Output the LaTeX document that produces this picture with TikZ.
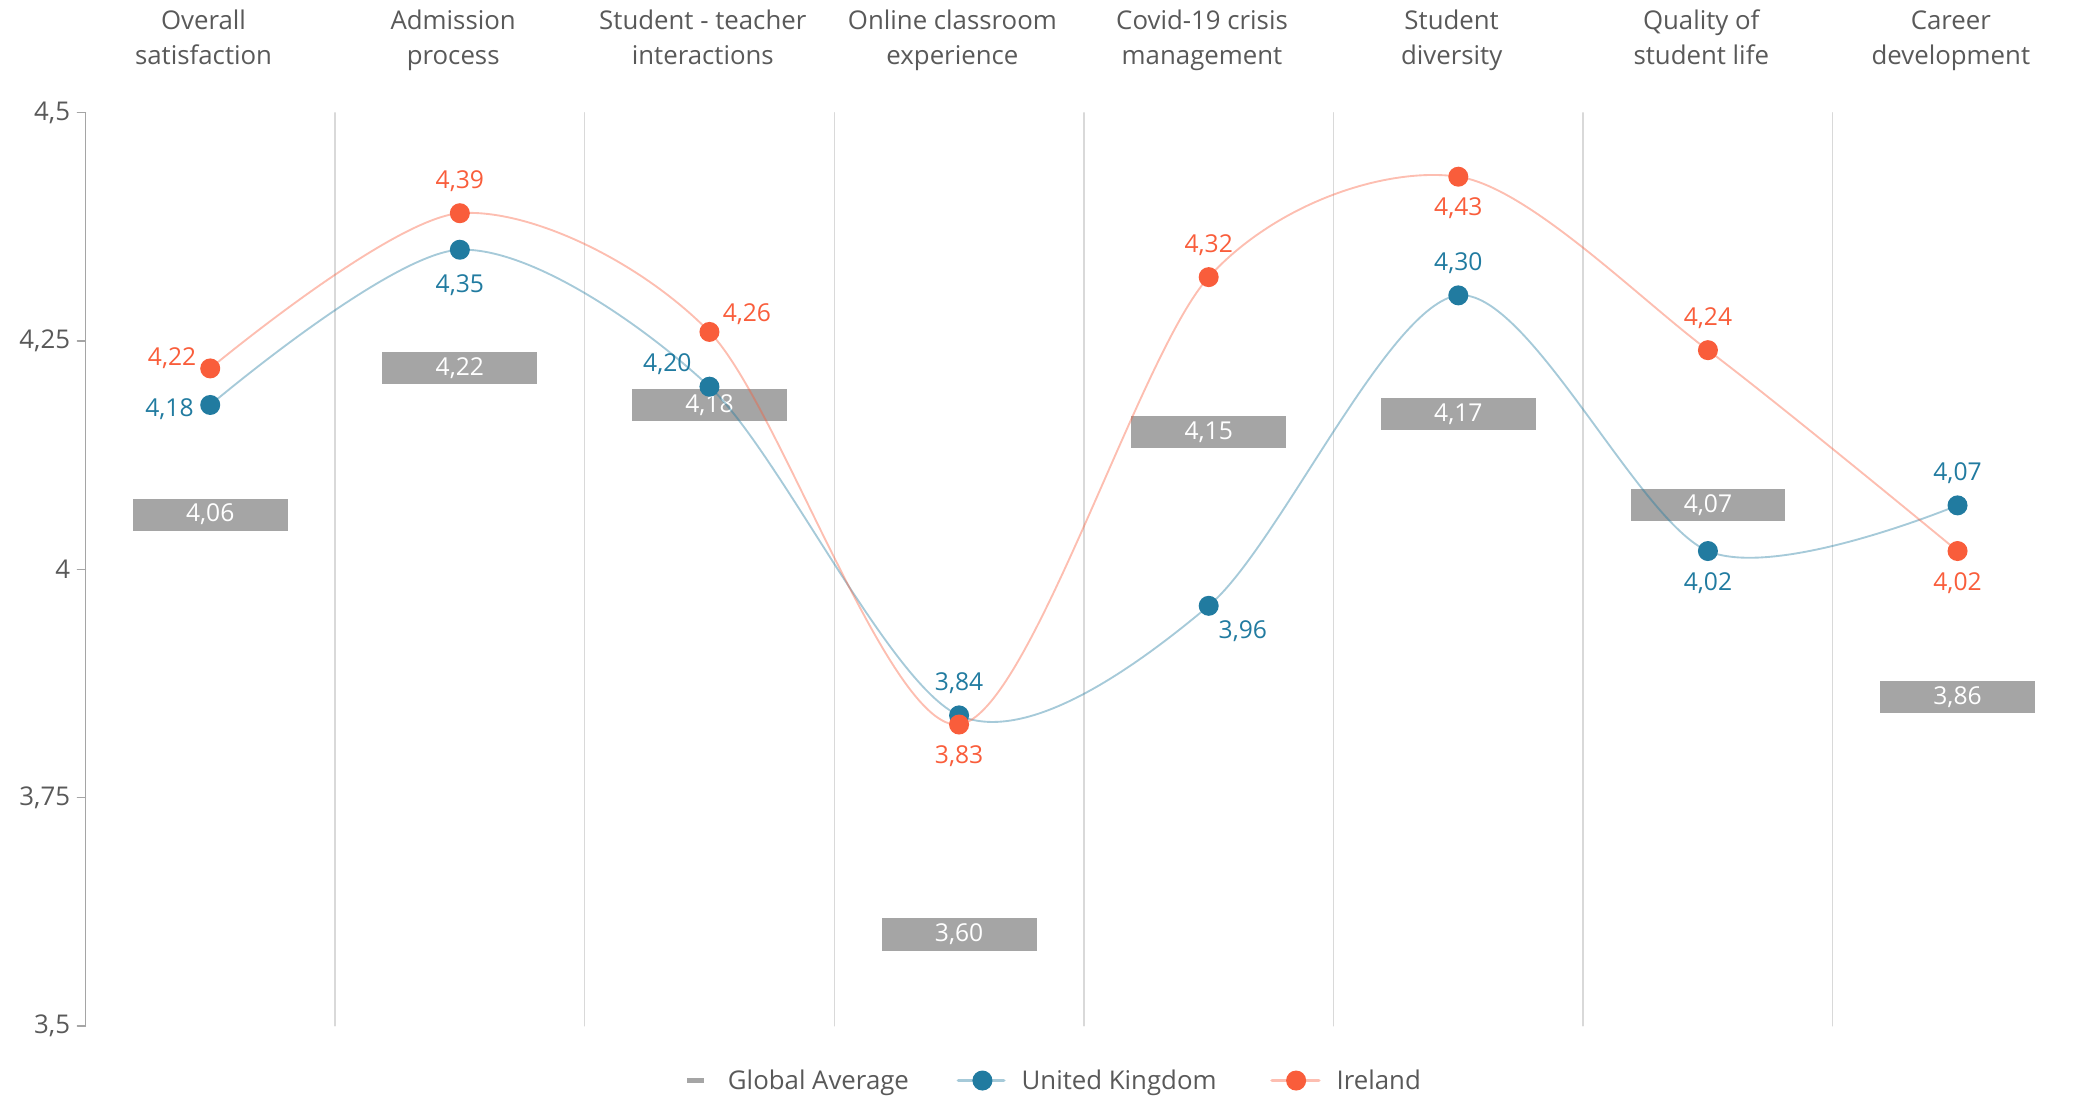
\documentclass[tikz,border=0pt]{standalone}
\usepackage{fontspec}
\setmainfont{Open Sans}
\usepackage{tikz}
\usetikzlibrary{positioning}

\definecolor{ukblue}{HTML}{217BA0}
\definecolor{ieorange}{HTML}{F95D3B}
\definecolor{avggray}{HTML}{A5A5A5}
\definecolor{txtgray}{HTML}{595959}
\definecolor{sepgray}{HTML}{D9D9D9}
\pgfkeys{/pgf/number format/.cd,use comma,fixed,fixed zerofill,precision=2,
  assume math mode=true}
\newcommand{\twoline}[2]{#1\strut\\#2\strut}

\begin{document}
\begin{tikzpicture}[line cap=round,
  hdr/.style={font=\fontsize{11}{14.8}\selectfont,text=txtgray,align=center},
  lbl/.style={font=\fontsize{10.5}{12}\selectfont,inner sep=1pt},
  avgbox/.style={fill=avggray,text=white,minimum width=2.32cm,minimum height=0.48cm,
    inner sep=0pt,font=\fontsize{10.5}{12}\selectfont},
  dot/.style={circle,inner sep=0pt,minimum size=0.3cm},
  trend/.style={line width=0.8pt,opacity=0.4},
  node distance=0.12cm]
  \useasboundingbox (0,0) rectangle (31.36,16.45);

  \begin{scope}[x=3.74cm,y=13.68cm,shift={(1.28cm,-46.8cm)}]
  % category separators
  \foreach \i in {1,...,7}
    \draw[sepgray,line width=0.6pt] (\i,3.5) -- (\i,4.5);

  % axis
  \draw[avggray,line width=0.6pt] (0,3.5) -- (0,4.5);
  \foreach \v/\t [count=\k] in {3.5/{3,5},3.75/{3,75},4/4,4.25/{4,25},4.5/{4,5}}{
    \draw[avggray,line width=0.6pt] (0,\v) -- ++(-0.12cm,0)
      node[left,hdr,inner sep=0.1cm] (tick\k) {\t};
  }

  % headers
  \foreach \h [count=\i] in {{\twoline{Overall}{satisfaction}},
      {\twoline{Admission}{process}},
      {\twoline{Student - teacher}{interactions}},
      {\twoline{Online classroom}{experience}},
      {\twoline{Covid-19 crisis}{management}},
      {\twoline{Student}{diversity}},
      {\twoline{Quality of}{student life}},
      {\twoline{Career}{development}}}
    \node[hdr,xshift=-0.1cm,inner sep=0pt] (hd\i) at (\i-0.5,4.58) {\h};

  % global average boxes, data points
  \foreach \g/\u/\r [count=\k] in {4.06/4.18/4.22,4.22/4.35/4.39,4.18/4.20/4.26,
      3.60/3.84/3.83,4.15/3.96/4.32,4.17/4.30/4.43,4.07/4.02/4.24,3.86/4.07/4.02}{
    \node[avgbox] (ga\k) at (\k-0.5,\g) {\pgfmathprintnumber{\g}};
    \coordinate (uk\k) at (\k-0.5,\u);
    \coordinate (ie\k) at (\k-0.5,\r);
  }

  % smoothed lines
  \draw[ukblue,trend] plot[smooth,tension=0.5] coordinates
    {(uk1) (uk2) (uk3) (uk4) (uk5) (uk6) (uk7) (uk8)};
  \draw[ieorange,trend] plot[smooth,tension=0.5] coordinates
    {(ie1) (ie2) (ie3) (ie4) (ie5) (ie6) (ie7) (ie8)};

  % markers
  \foreach \k in {1,...,8}
    \node[dot,fill=ukblue] (ukd\k) at (uk\k) {};
  \foreach \k in {1,...,8}
    \node[dot,fill=ieorange] (ied\k) at (ie\k) {};
  \end{scope}

  % united kingdom values
  \node[lbl,ukblue,left=0.05cm of ukd1,yshift=-0.06cm] (ukl1) {4,18};
  \node[lbl,ukblue,below=0.18cm of ukd2] (ukl2) {4,35};
  \node[lbl,ukblue,left=0.07cm of ukd3,yshift=0.34cm] (ukl3) {4,20};
  \node[lbl,ukblue,above=of ukd4] (ukl4) {3,84};
  \node[lbl,ukblue,right=-0.05cm of ukd5,yshift=-0.38cm] (ukl5) {3,96};
  \node[lbl,ukblue,above=of ukd6] (ukl6) {4,30};
  \node[lbl,ukblue,below=of ukd7] (ukl7) {4,02};
  \node[lbl,ukblue,above=of ukd8] (ukl8) {4,07};

  % ireland values
  \node[lbl,ieorange,left=0.01cm of ied1,yshift=0.16cm] (iel1) {4,22};
  \node[lbl,ieorange,above=of ied2] (iel2) {4,39};
  \node[lbl,ieorange,right=0cm of ied3,yshift=0.26cm] (iel3) {4,26};
  \node[lbl,ieorange,below=of ied4] (iel4) {3,83};
  \node[lbl,ieorange,above=of ied5] (iel5) {4,32};
  \node[lbl,ieorange,below=of ied6] (iel6) {4,43};
  \node[lbl,ieorange,above=of ied7] (iel7) {4,24};
  \node[lbl,ieorange,below=of ied8] (iel8) {4,02};

  % legend
  \node[fill=avggray,minimum width=0.26cm,minimum height=0.08cm,inner sep=0pt]
    (lgga) at (10.42,0.26) {};
  \node[hdr,anchor=mid west,inner sep=0pt] (lggat) at (10.9,0.22) {Global Average};
  \coordinate (lguka) at (14.36,0.26);
  \coordinate (lgukb) at (15.04,0.26);
  \draw[ukblue,trend,line width=1.6pt] (lguka) -- (lgukb);
  \node[dot,fill=ukblue] (lguk) at (14.72,0.26) {};
  \node[hdr,anchor=mid west,inner sep=0pt] (lgukt) at (15.3,0.22) {United Kingdom};
  \coordinate (lgiea) at (19.06,0.26);
  \coordinate (lgieb) at (19.76,0.26);
  \draw[ieorange,trend,line width=1.6pt] (lgiea) -- (lgieb);
  \node[dot,fill=ieorange] (lgie) at (19.42,0.26) {};
  \node[hdr,anchor=mid west,inner sep=0pt] (lgiet) at (20.02,0.22) {Ireland};
\end{tikzpicture}
\end{document}
